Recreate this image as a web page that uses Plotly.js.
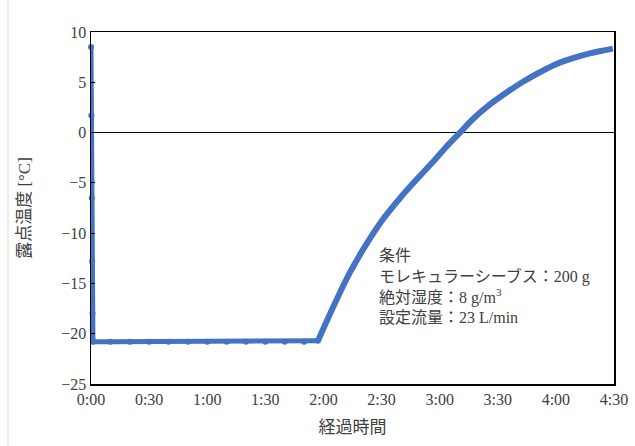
<!DOCTYPE html>
<html>
<head>
<meta charset="utf-8">
<script src="https://cdn.plot.ly/plotly-3.0.1.min.js"></script>
<style>html,body{margin:0;padding:0;background:#fff;}#chart{width:635px;height:446px;}</style>
</head>
<body>
<div id="chart"></div>
<script>
// elapsed time in minutes
const elapsedMin = [0, 0.2, 0.4, 0.6, 0.8, 1.0, 10, 20, 30, 40, 50, 60, 70, 80, 90, 100, 110, 117.2,
  124.9, 133.7, 142.5, 150.8, 159.6, 168.4, 176.6, 183, 190.5, 197.2, 205, 214.7, 223, 231.7, 240, 248.8, 258, 264, 269.4];
// dew point [°C]
const dewPoint = [8.5, 1.7, -6.5, -12.8, -18.0, -20.8, -20.8, -20.8, -20.8, -20.8, -20.8, -20.8, -20.8, -20.8, -20.8, -20.8, -20.8, -20.7,
  -17.4, -13.9, -11.0, -8.6, -6.5, -4.6, -2.9, -1.5, 0.0, 1.35, 2.65, 4.0, 5.05, 6.0, 6.8, 7.4, 7.9, 8.15, 8.35];
const xTickVals = [0, 30, 60, 90, 120, 150, 180, 210, 240, 270];
const xTickText = ["0:00", "0:30", "1:00", "1:30", "2:00", "2:30", "3:00", "3:30", "4:00", "4:30"];
const conditionLines = ["条件", "モレキュラーシーブス：200 g", "絶対湿度：8 g/m<sup>3</sup>", "設定流量：23 L/min"];

const serif = '"Times New Roman", "Liberation Serif", "Noto Sans CJK JP", serif';
const riseStart = 17;
const common = {type: 'scatter', mode: 'lines+markers', marker: {color: '#4472C4', size: 6}, cliponaxis: false, hoverinfo: 'skip'};
const traceFlat = Object.assign({}, common, {
  x: elapsedMin.slice(0, riseStart + 1), y: dewPoint.slice(0, riseStart + 1),
  line: {color: '#4472C4', width: 5}
});
const traceRise = Object.assign({}, common, {
  x: elapsedMin.slice(riseStart), y: dewPoint.slice(riseStart),
  mode: 'lines',
  line: {color: '#4472C4', width: 6, shape: 'spline', smoothing: 1}
});
const layout = {
  width: 635, height: 446,
  margin: {l: 91, r: 21, t: 32, b: 62},
  paper_bgcolor: '#fff', plot_bgcolor: '#fff',
  showlegend: false,
  font: {family: serif, color: '#404040', size: 16},
  xaxis: {
    range: [0, 270], tickvals: xTickVals, ticktext: xTickText,
    showgrid: false, zeroline: false, showline: true, mirror: true,
    linecolor: '#000', linewidth: 1.5, ticks: '',
    tickfont: {family: serif, size: 16, color: '#404040'},
    title: {text: '経過時間', font: {family: serif, size: 17, color: '#404040'}, standoff: 14}
  },
  yaxis: {
    range: [-25, 10], dtick: 5, tick0: 0,
    showgrid: false, zeroline: true, zerolinecolor: '#000', zerolinewidth: 1,
    showline: true, mirror: true, linecolor: '#000', linewidth: 1.5,
    ticks: 'inside', ticklen: 4, tickcolor: '#000',
    tickfont: {family: serif, size: 16, color: '#404040'},
    title: {text: '露点温度 [°C]', font: {family: serif, size: 17, color: '#404040'}, standoff: 26}
  },
  annotations: [{
    xref: 'paper', yref: 'paper', x: (377 - 91) / 523, y: (384 - 245) / 352,
    xanchor: 'left', yanchor: 'top', align: 'left', showarrow: false,
    text: conditionLines.join('<br>'),
    font: {family: serif, size: 16, color: '#404040'}
  }],
  shapes: [{
    type: 'line', xref: 'paper', yref: 'paper',
    x0: (8 - 91) / 523, x1: (8 - 91) / 523, y0: -62 / 352, y1: (384 + 20) / 352,
    line: {color: '#d9d9d9', width: 1}
  }]
};
Plotly.newPlot('chart', [traceFlat, traceRise], layout, {displayModeBar: false, staticPlot: true});
</script>
</body>
</html>
